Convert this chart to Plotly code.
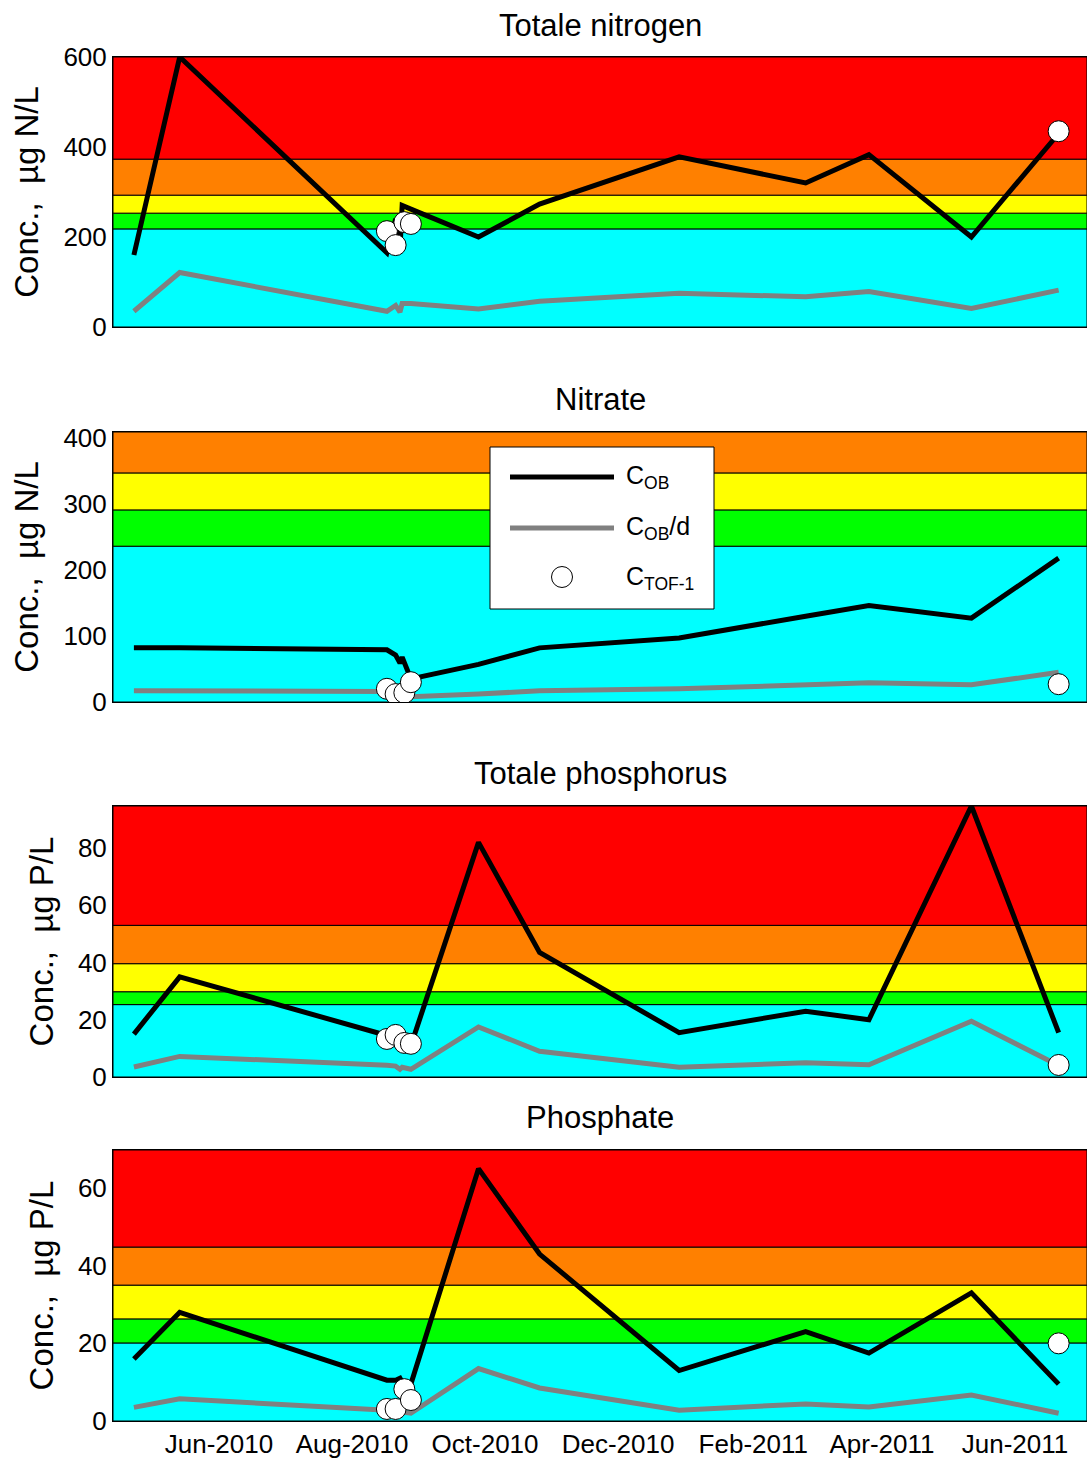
import plotly.graph_objects as go
from plotly.subplots import make_subplots

# ---------------- data ----------------
dates_line = ["2010-04-23", "2010-05-14", "2010-08-17", "2010-08-21", "2010-08-23",
              "2010-08-24", "2010-08-28", "2010-09-28", "2010-10-26", "2010-12-29",
              "2011-02-25", "2011-03-26", "2011-05-12", "2011-06-21"]
dates_tof = ["2010-08-17", "2010-08-21", "2010-08-25", "2010-08-28", "2011-06-21"]

tn_cob = [160, 600, 165, 240, 175, 270, 262, 200, 273, 378, 320, 383, 200, 430]
tn_cobd = [35, 121, 35, 48, 33, 52, 52, 40, 57, 75, 67, 79, 41, 82]
tn_tof = [213, 182, 233, 229, 435]

no3_cob = [82, 82, 79, 71, 59, 68, 35, 57, 82, 97, 130, 146, 127, 218]
no3_cobd = [17, 17, 16, 14, 12, 14, 8, 12, 17, 20, 26, 29, 26, 45]
no3_tof = [20, 12, 14, 30, 27]

tp_cob = [15, 35, 14.5, 14, 13, 12, 11, 82, 43.5, 15.5, 23, 20, 94.7, 15.5]
tp_cobd = [3.5, 7.2, 4.1, 3.8, 2.7, 3.4, 2.7, 17.5, 9, 3.4, 5, 4.3, 19.5, 4]
tp_tof = [13.3, 14.7, 11.9, 11.6, 4.2]

po4_cob = [16, 28, 10.5, 10.5, 11, 10, 9.5, 65, 43, 13, 23, 17.5, 33, 9.5]
po4_cobd = [3.5, 5.7, 2.8, 2.6, 2.3, 2.2, 2, 13.5, 8.5, 2.8, 4.4, 3.6, 6.7, 2]
po4_tof = [3.1, 3.1, 8.2, 5.4, 20]

band_colors = ["#00FFFF", "#00FF00", "#FFFF00", "#FF8000", "#FF0000"]
tn_bands = [0, 218, 253, 293, 373, 600]
no3_bands = [0, 236, 291, 347, 409]
tp_bands = [0, 25.3, 29.8, 39.6, 53.0, 94.7]
po4_bands = [0, 20.1, 26.3, 35.0, 44.8, 69.8]

titles = ["Totale nitrogen", "Nitrate", "Totale phosphorus", "Phosphate"]
ylabels = ["Conc., \u00a0\u00b5g N/L", "Conc., \u00a0\u00b5g N/L",
           "Conc., \u00a0\u00b5g P/L", "Conc., \u00a0\u00b5g P/L"]
yticks = [[0, 200, 400, 600], [0, 100, 200, 300, 400], [0, 20, 40, 60, 80], [0, 20, 40, 60]]
x_range = ["2010-04-13 10:00", "2011-07-04"]

legend_labels = ["C<sub>OB</sub>", "C<sub>OB</sub>/d", "C<sub>TOF-1</sub>"]

# ---------------- figure geometry (page pixels) ----------------
W, H = 1087, 1461
PLOT_L, PLOT_R = 113, 1087
FONT = "Arial, Liberation Sans, sans-serif"


def px(xp):
    return (xp - PLOT_L) / (PLOT_R - PLOT_L)


def py(yp):
    return 1 - yp / H


panels = [
    (tn_cob, tn_cobd, tn_tof, tn_bands),
    (no3_cob, no3_cobd, no3_tof, no3_bands),
    (tp_cob, tp_cobd, tp_tof, tp_bands),
    (po4_cob, po4_cobd, po4_tof, po4_bands),
]
pix_domains = [(57, 327), (432, 702), (806, 1077), (1150, 1421)]
title_y = [25, 399, 773, 1117]

fig = make_subplots(rows=4, cols=1)

for i, (cob, cobd, tof, bands) in enumerate(panels):
    r = i + 1
    fig.add_trace(go.Scatter(x=dates_line, y=cobd, mode="lines",
                             line=dict(color="#808080", width=5),
                             showlegend=False, hoverinfo="skip"), row=r, col=1)
    fig.add_trace(go.Scatter(x=dates_line, y=cob, mode="lines",
                             line=dict(color="black", width=5),
                             showlegend=False), row=r, col=1)
    fig.add_trace(go.Scatter(x=dates_tof, y=tof, mode="markers",
                             marker=dict(size=21, color="white",
                                         line=dict(color="black", width=1)),
                             showlegend=False), row=r, col=1)
    xn = "x" if r == 1 else f"x{r}"
    yn = "y" if r == 1 else f"y{r}"
    for k in range(len(bands) - 1):
        fig.add_shape(type="rect", xref=f"{xn} domain", yref=yn,
                      x0=0, x1=1, y0=bands[k], y1=bands[k + 1],
                      fillcolor=band_colors[k], line=dict(color="black", width=1),
                      layer="below")
    top, bot = pix_domains[i]
    dom = [py(bot), py(top)]
    fig.update_yaxes(domain=dom, range=[bands[0], bands[-1]], tickvals=yticks[i],
                     ticks="", showgrid=False, zeroline=False, automargin=False,
                     showline=True, linecolor="black", linewidth=1, mirror=True,
                     tickfont=dict(family=FONT, size=26, color="black"),
                     title=dict(text=ylabels[i], standoff=14,
                                font=dict(family=FONT, size=33, color="black")),
                     row=r, col=1)
    fig.update_xaxes(type="date", range=x_range, showgrid=False, zeroline=False,
                     automargin=False,
                     showline=True, linecolor="black", linewidth=1, mirror=True,
                     ticks="", tick0="2010-06-01", dtick="M2", tickformat="%b-%Y",
                     showticklabels=(r == 4),
                     tickfont=dict(family=FONT, size=26, color="black"),
                     row=r, col=1)
    fig.add_annotation(text=titles[i], xref="paper", yref="paper",
                       x=0.5, y=py(title_y[i]), xanchor="center", yanchor="middle",
                       showarrow=False, font=dict(family=FONT, size=31, color="black"))

# ---------------- manual legend (in Nitrate panel) ----------------
fig.add_shape(type="rect", xref="paper", yref="paper",
              x0=px(490), x1=px(714), y0=py(609), y1=py(447),
              fillcolor="white", line=dict(color="black", width=1), layer="above")
fig.add_shape(type="line", xref="paper", yref="paper",
              x0=px(510), x1=px(614), y0=py(477), y1=py(477),
              line=dict(color="black", width=5), layer="above")
fig.add_shape(type="line", xref="paper", yref="paper",
              x0=px(510), x1=px(614), y0=py(528), y1=py(528),
              line=dict(color="#808080", width=5), layer="above")
fig.add_shape(type="circle", xref="paper", yref="paper",
              xsizemode="pixel", ysizemode="pixel",
              xanchor=px(562), yanchor=py(577), x0=-10.5, x1=10.5, y0=-10.5, y1=10.5,
              fillcolor="white", line=dict(color="black", width=1), layer="above")
for lab, yy in zip(legend_labels, [477, 528, 578]):
    fig.add_annotation(text=lab, xref="paper", yref="paper", x=px(624), y=py(yy),
                       xanchor="left", yanchor="middle", showarrow=False,
                       font=dict(family=FONT, size=25, color="black"))

fig.update_layout(template="none", width=W, height=H,
                  margin=dict(l=PLOT_L, r=W - PLOT_R, t=0, b=0, autoexpand=False),
                  paper_bgcolor="white", plot_bgcolor="white", showlegend=False,
                  font=dict(family=FONT, color="black"))

fig.write_html("out.html",
               config={"displayModeBar": False},
               post_script="document.body.style.margin='0px';"
                           "document.body.style.overflow='hidden';")
